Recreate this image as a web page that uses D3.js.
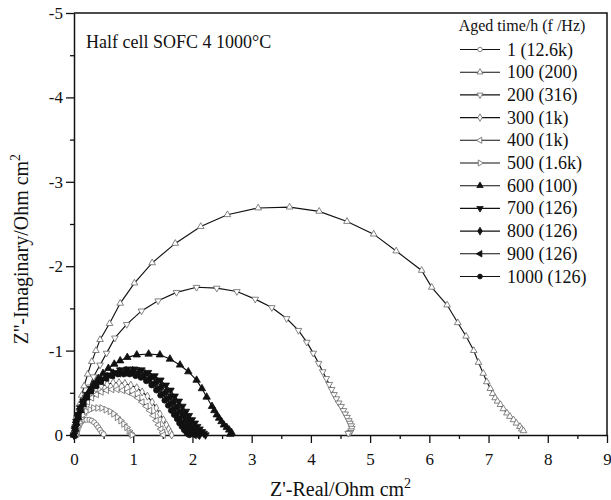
<!DOCTYPE html>
<html>
<head>
<meta charset="utf-8">
<script src="https://cdn.jsdelivr.net/npm/d3@7"></script>
<style>
body { margin:0; background:#fff; }
text { font-family: "Liberation Serif", "Times New Roman", serif; fill:#111; }
</style>
</head>
<body>
<svg id="chart" width="611" height="500"></svg>
<script>
// Z' (x) and Z'' (y), Ohm cm2
var s1 = [[0.05,0.00],[0.05,-0.03],[0.06,-0.06],[0.08,-0.10],[0.10,-0.13],[0.13,-0.16],[0.17,-0.18],[0.21,-0.18],[0.26,-0.18],[0.30,-0.17],[0.34,-0.15],[0.38,-0.12],[0.41,-0.09],[0.44,-0.06],[0.47,-0.03],[0.50,-0.01]];
var s100 = [[0.00,0.00],[0.01,-0.06],[0.03,-0.14],[0.05,-0.22],[0.09,-0.36],[0.13,-0.47],[0.17,-0.58],[0.23,-0.72],[0.30,-0.87],[0.37,-1.00],[0.44,-1.13],[0.60,-1.32],[0.78,-1.56],[1.02,-1.80],[1.32,-2.04],[1.71,-2.27],[2.14,-2.47],[2.59,-2.61],[3.11,-2.69],[3.64,-2.70],[4.14,-2.65],[4.61,-2.53],[5.06,-2.38],[5.44,-2.18],[5.87,-1.95],[6.04,-1.75],[6.30,-1.54],[6.48,-1.33],[6.62,-1.17],[6.75,-1.00],[6.83,-0.86],[6.91,-0.73],[6.97,-0.63],[7.03,-0.55],[7.07,-0.49],[7.11,-0.44],[7.15,-0.40],[7.20,-0.36],[7.25,-0.31],[7.31,-0.26],[7.36,-0.22],[7.42,-0.18],[7.47,-0.14],[7.53,-0.10],[7.56,-0.07],[7.59,-0.05]];
var s200 = [[0.00,0.00],[0.02,-0.10],[0.05,-0.20],[0.09,-0.28],[0.13,-0.34],[0.19,-0.45],[0.26,-0.57],[0.33,-0.69],[0.44,-0.83],[0.55,-0.97],[0.69,-1.15],[0.89,-1.31],[1.14,-1.47],[1.42,-1.59],[1.73,-1.69],[2.07,-1.75],[2.41,-1.74],[2.75,-1.70],[3.06,-1.61],[3.34,-1.51],[3.59,-1.38],[3.79,-1.24],[3.93,-1.10],[4.04,-0.97],[4.13,-0.85],[4.20,-0.75],[4.26,-0.67],[4.31,-0.60],[4.35,-0.54],[4.39,-0.48],[4.43,-0.43],[4.47,-0.38],[4.51,-0.34],[4.55,-0.29],[4.58,-0.25],[4.61,-0.21],[4.64,-0.17],[4.66,-0.14],[4.68,-0.11],[4.69,-0.08],[4.68,-0.05],[4.66,-0.03],[4.63,-0.02]];
var s300 = [[0.01,0.00],[0.02,-0.07],[0.04,-0.14],[0.07,-0.22],[0.11,-0.30],[0.16,-0.38],[0.22,-0.45],[0.29,-0.51],[0.37,-0.55],[0.46,-0.58],[0.56,-0.60],[0.66,-0.62],[0.76,-0.62],[0.86,-0.61],[0.96,-0.59],[1.06,-0.56],[1.15,-0.51],[1.24,-0.46],[1.32,-0.39],[1.39,-0.32],[1.45,-0.25],[1.51,-0.18],[1.56,-0.12],[1.60,-0.07],[1.63,-0.03],[1.65,0.00]];
var s400 = [[0.02,0.00],[0.03,-0.06],[0.05,-0.12],[0.08,-0.19],[0.12,-0.26],[0.17,-0.33],[0.23,-0.39],[0.30,-0.44],[0.38,-0.48],[0.46,-0.51],[0.55,-0.53],[0.64,-0.54],[0.73,-0.54],[0.82,-0.53],[0.91,-0.51],[1.00,-0.48],[1.08,-0.44],[1.15,-0.39],[1.22,-0.34],[1.28,-0.29],[1.34,-0.23],[1.39,-0.17],[1.43,-0.12],[1.47,-0.07],[1.50,-0.03],[1.51,0.00]];
var s500 = [[0.03,0.00],[0.04,-0.05],[0.06,-0.10],[0.09,-0.15],[0.12,-0.20],[0.16,-0.24],[0.21,-0.28],[0.27,-0.30],[0.33,-0.32],[0.40,-0.32],[0.47,-0.32],[0.54,-0.30],[0.61,-0.28],[0.67,-0.25],[0.73,-0.21],[0.79,-0.17],[0.84,-0.13],[0.89,-0.09],[0.93,-0.05],[0.96,-0.02],[0.98,0.00]];
var s600 = [[0.00,0.00],[0.02,-0.07],[0.04,-0.14],[0.07,-0.21],[0.11,-0.29],[0.15,-0.36],[0.20,-0.44],[0.26,-0.52],[0.33,-0.60],[0.41,-0.67],[0.49,-0.73],[0.58,-0.79],[0.68,-0.84],[0.78,-0.88],[0.90,-0.92],[1.06,-0.95],[1.26,-0.96],[1.45,-0.95],[1.62,-0.90],[1.79,-0.83],[1.93,-0.75],[2.07,-0.65],[2.16,-0.55],[2.24,-0.45],[2.33,-0.34],[2.37,-0.29],[2.41,-0.24],[2.45,-0.20],[2.49,-0.16],[2.53,-0.12],[2.58,-0.09],[2.62,-0.06],[2.66,-0.03],[2.64,-0.01]];
var s700 = [[0.00,0.00],[0.02,-0.08],[0.04,-0.16],[0.07,-0.24],[0.11,-0.32],[0.16,-0.40],[0.22,-0.48],[0.29,-0.55],[0.37,-0.61],[0.46,-0.66],[0.56,-0.71],[0.67,-0.74],[0.78,-0.77],[0.90,-0.78],[1.02,-0.78],[1.14,-0.77],[1.25,-0.74],[1.36,-0.70],[1.46,-0.65],[1.55,-0.59],[1.63,-0.53],[1.70,-0.46],[1.77,-0.40],[1.83,-0.34],[1.89,-0.28],[1.94,-0.23],[1.99,-0.18],[2.04,-0.14],[2.08,-0.10],[2.12,-0.07],[2.16,-0.04],[2.19,-0.02],[2.22,0.00]];
var s800 = [[0.00,0.00],[0.02,-0.08],[0.04,-0.16],[0.07,-0.24],[0.11,-0.32],[0.16,-0.40],[0.22,-0.47],[0.29,-0.54],[0.37,-0.60],[0.46,-0.65],[0.56,-0.69],[0.66,-0.73],[0.77,-0.75],[0.88,-0.76],[0.99,-0.76],[1.10,-0.75],[1.20,-0.72],[1.30,-0.68],[1.40,-0.63],[1.48,-0.57],[1.56,-0.51],[1.63,-0.45],[1.69,-0.39],[1.75,-0.33],[1.81,-0.27],[1.86,-0.22],[1.91,-0.17],[1.95,-0.13],[1.99,-0.09],[2.03,-0.06],[2.07,-0.03],[2.10,-0.01],[2.12,0.00]];
var s900 = [[0.00,0.00],[0.02,-0.08],[0.04,-0.15],[0.07,-0.23],[0.11,-0.31],[0.16,-0.39],[0.22,-0.46],[0.29,-0.53],[0.37,-0.59],[0.46,-0.64],[0.55,-0.68],[0.65,-0.71],[0.75,-0.73],[0.86,-0.74],[0.96,-0.74],[1.06,-0.72],[1.16,-0.70],[1.25,-0.66],[1.34,-0.61],[1.42,-0.55],[1.50,-0.49],[1.57,-0.43],[1.63,-0.37],[1.69,-0.31],[1.74,-0.25],[1.79,-0.20],[1.84,-0.15],[1.88,-0.11],[1.92,-0.07],[1.96,-0.04],[2.00,-0.02],[2.03,0.00]];
var s1000 = [[0.00,0.00],[0.02,-0.07],[0.04,-0.15],[0.07,-0.22],[0.11,-0.30],[0.16,-0.38],[0.22,-0.45],[0.29,-0.52],[0.37,-0.58],[0.45,-0.63],[0.54,-0.67],[0.64,-0.70],[0.74,-0.72],[0.84,-0.72],[0.94,-0.72],[1.04,-0.70],[1.13,-0.68],[1.22,-0.64],[1.31,-0.59],[1.39,-0.53],[1.46,-0.47],[1.53,-0.41],[1.59,-0.35],[1.64,-0.29],[1.69,-0.24],[1.74,-0.19],[1.78,-0.14],[1.82,-0.10],[1.86,-0.06],[1.90,-0.03],[1.93,-0.01],[1.95,0.00]];

var legendLabels = ["1 (12.6k)","100 (200)","200 (316)","300 (1k)","400 (1k)","500 (1.6k)","600 (100)","700 (126)","800 (126)","900 (126)","1000 (126)"];
var xTicks = [0,1,2,3,4,5,6,7,8,9];
var yTicks = [0,-1,-2,-3,-4,-5];

var allSeries = [s1, s100, s200, s300, s400, s500, s600, s700, s800, s900, s1000];
// marker: symbol, rotation, filled
var markers = [
    [d3.symbolCircle, 0, false],
    [d3.symbolTriangle, 0, false],
    [d3.symbolTriangle, 180, false],
    [d3.symbolDiamond, 0, false],
    [d3.symbolTriangle, -90, false],
    [d3.symbolTriangle, 90, false],
    [d3.symbolTriangle, 0, true],
    [d3.symbolTriangle, 180, true],
    [d3.symbolDiamond, 0, true],
    [d3.symbolTriangle, -90, true],
    [d3.symbolCircle, 0, true]
];

function drawChart() {

var svg = d3.select("#chart");
var mLeft = 74, mRight = 607, mTop = 13, mBottom = 435;

var x = d3.scaleLinear().domain([0, 9]).range([mLeft, mRight]);
var y = d3.scaleLinear().domain([0, -5]).range([mBottom, mTop]);

function markSize(m) {
    if (m[2]) return 24;
    return m[0] === d3.symbolCircle ? 20 : 19;
}

// frame
svg.append("path")
    .attr("d", "M" + mLeft + "," + mTop + "H" + mRight + "V" + mBottom)
    .attr("fill", "none")
    .attr("stroke", "#111")
    .attr("stroke-width", 1.5)
;

var xAxis = svg.append("g")
    .attr("transform", "translate(0," + mBottom + ")")
    .call(d3.axisBottom(x).tickValues(xTicks).tickSize(8).tickSizeOuter(0).tickFormat(function(d){ return String(d); }))
;
xAxis.append("g")
    .call(d3.axisBottom(x).tickValues(d3.range(0.5, 9, 1)).tickSize(4).tickFormat(""))
    .select(".domain").remove()
;

var yAxis = svg.append("g")
    .attr("transform", "translate(" + mLeft + ",0)")
    .call(d3.axisLeft(y).tickValues(yTicks).tickSize(8).tickSizeOuter(0).tickFormat(function(d){ return String(d); }))
;
yAxis.append("g")
    .call(d3.axisLeft(y).tickValues([-0.5,-1.5,-2.5,-3.5,-4.5]).tickSize(4).tickFormat(""))
    .select(".domain").remove()
;

xAxis.attr("font-family", "Liberation Serif");
yAxis.attr("font-family", "Liberation Serif");
svg.selectAll(".domain").attr("stroke", "#111").attr("stroke-width", 1.5);
svg.selectAll(".tick line").attr("stroke", "#111").attr("stroke-width", 1.3);
svg.selectAll(".tick text")
    .style("font-family", "Liberation Serif")
    .style("font-size", "17px")
    .attr("fill", "#111")
;
xAxis.selectAll(".tick text").attr("dy", "1.1em");
yAxis.selectAll(".tick text").attr("x", -11);

// axis titles
svg.append("text")
    .attr("x", (mLeft + mRight) / 2)
    .attr("y", 496)
    .attr("text-anchor", "middle")
    .style("font-size", "20px")
    .html("Z'-Real/Ohm cm<tspan dy='-8' font-size='14px'>2</tspan>")
;
svg.append("text")
    .attr("transform", "translate(28," + 249 + ") rotate(-90)")
    .attr("text-anchor", "middle")
    .style("font-size", "20px")
    .html("Z''-Imaginary/Ohm cm<tspan dy='-8' font-size='14px'>2</tspan>")
;

svg.append("text")
    .attr("x", 86)
    .attr("y", 48)
    .style("font-size", "18px")
    .text("Half cell SOFC 4 1000\u00b0C")
;

// series
var line = d3.line().x(function(d){ return x(d[0]); }).y(function(d){ return y(d[1]); });
var plot = svg.append("g");

allSeries.forEach(function(data, i){
    var m = markers[i];
    var g = plot.append("g").attr("class", "series");
    g.append("path")
        .attr("d", line(data))
        .attr("fill", "none")
        .attr("stroke", "#111")
        .attr("stroke-width", 1.15)
    ;
    g.selectAll("path.pt")
        .data(data)
        .enter().append("path")
        .attr("class", "pt")
        .attr("d", d3.symbol().type(m[0]).size(markSize(m)))
        .attr("transform", function(d){ return "translate(" + x(d[0]) + "," + y(d[1]) + ") rotate(" + m[1] + ")"; })
        .attr("fill", m[2] ? "#111" : "#fff")
        .attr("stroke", m[2] ? "#111" : "#666")
        .attr("stroke-width", 0.8)
    ;
});

// legend
var legend = svg.append("g");
legend.append("text")
    .attr("x", 522)
    .attr("y", 31)
    .attr("text-anchor", "middle")
    .style("font-size", "16px")
    .text("Aged time/h (f /Hz)")
;
legendLabels.forEach(function(lab, i){
    var m = markers[i];
    var row = legend.append("g")
        .attr("transform", "translate(0," + (49.5 + 22.7 * i) + ")")
    ;
    row.append("line")
        .attr("x1", 460).attr("x2", 500)
        .attr("stroke", "#111")
        .attr("stroke-width", 1.1)
    ;
    row.append("path")
        .attr("d", d3.symbol().type(m[0]).size(m[2] ? 18 : 16))
        .attr("transform", "translate(480,0) rotate(" + m[1] + ")")
        .attr("fill", m[2] ? "#111" : "#fff")
        .attr("stroke", m[2] ? "#111" : "#666")
        .attr("stroke-width", 0.8)
    ;
    row.append("text")
        .attr("x", 507)
        .attr("y", 6)
        .style("font-size", "18px")
        .text(lab)
    ;
});
}

drawChart();
</script>
</body>
</html>
